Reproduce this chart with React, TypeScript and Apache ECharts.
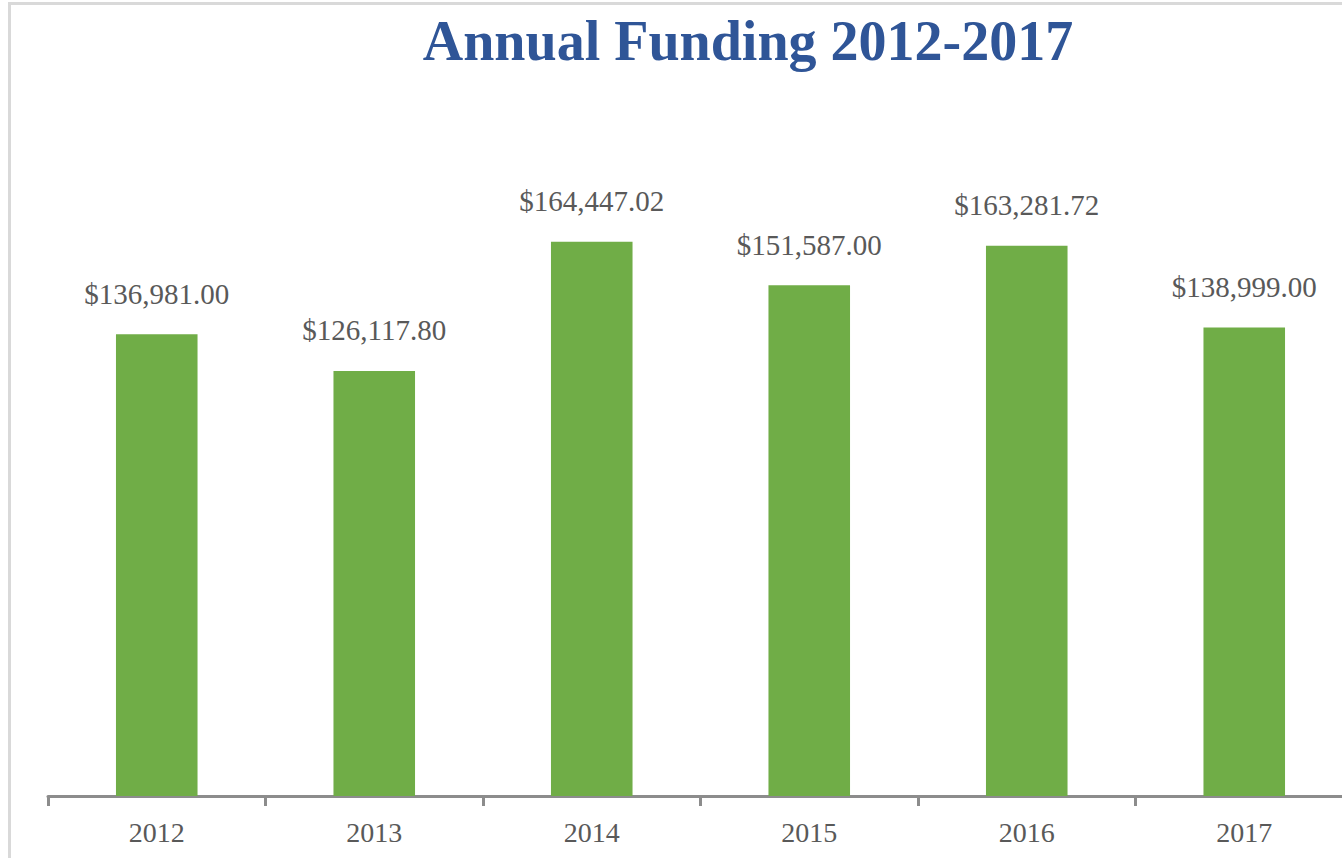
import React, { useEffect, useRef } from "react";
import * as echarts from "echarts";

const categories = ["2012", "2013", "2014", "2015", "2016", "2017"];
const funding = [136981.0, 126117.8, 164447.02, 151587.0, 163281.72, 138999.0];
const titleText = "Annual Funding 2012-2017";

const fmt = (v: number) =>
  "$" + v.toLocaleString("en-US", { minimumFractionDigits: 2, maximumFractionDigits: 2 });

export default function App() {
  const ref = useRef<HTMLDivElement>(null);
  useEffect(() => {
    if (!ref.current) return;
    const chart = echarts.init(ref.current, undefined, { renderer: "svg" });
    const serif = "'Liberation Serif', 'DejaVu Serif', serif";
    chart.setOption({
      animation: false,
      backgroundColor: "#ffffff",
      title: {
        text: titleText,
        left: 743,
        textAlign: "center",
        top: 8,
        textStyle: {
          fontFamily: serif,
          fontWeight: "bold",
          fontSize: 56,
          color: "#2F5597",
        },
      },
      graphic: [
        {
          type: "rect",
          shape: { x: 9.5, y: 3.5, width: 1400, height: 1000 },
          style: { fill: "none", stroke: "#d9d9d9", lineWidth: 3 },
          silent: true,
          z: -1,
        },
      ],
      grid: { left: 48, top: 122, width: 1305, height: 674, containLabel: false },
      xAxis: {
        type: "category",
        data: categories,
        axisLine: { show: true, lineStyle: { color: "#8c8c8c", width: 3 } },
        axisTick: { show: true, alignWithLabel: false, length: 10, lineStyle: { color: "#8c8c8c", width: 3 } },
        axisLabel: { fontFamily: serif, fontSize: 28, color: "#595959", margin: 22 },
      },
      yAxis: {
        type: "value",
        min: 0,
        max: 200000,
        show: false,
        splitLine: { show: false },
      },
      series: [
        {
          type: "bar",
          data: funding,
          barWidth: "37.5%",
          itemStyle: { color: "#70AD47" },
          label: {
            show: true,
            position: "top",
            distance: 26,
            fontFamily: serif,
            fontSize: 29,
            color: "#595959",
            formatter: (p: any) => fmt(p.value),
          },
        },
      ],
    });
    return () => chart.dispose();
  }, []);
  return (
    <div
      ref={ref}
      style={{ position: "fixed", left: 0, top: 0, width: 1360, height: 858, background: "#fff" }}
    />
  );
}
